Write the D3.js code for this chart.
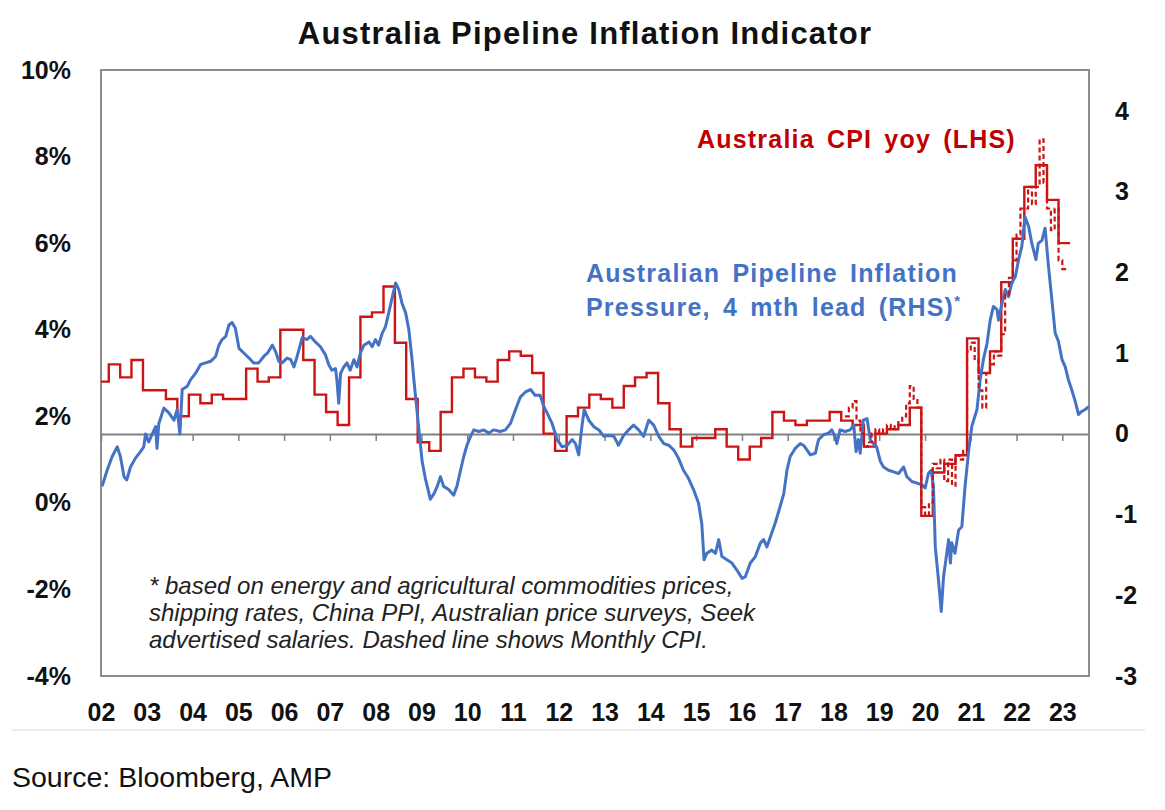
<!DOCTYPE html>
<html>
<head>
<meta charset="utf-8">
<script src="https://cdn.jsdelivr.net/npm/d3@7"></script>
<style>
    body { margin: 0; background: #fff; }
    text { font-family: "Liberation Sans", Arial, sans-serif; }
</style>
</head>
<body>
<svg id="chart" width="1165" height="810"></svg>
<script>
// axis ticks
const leftTicks = [-4, -2, 0, 2, 4, 6, 8, 10];
const rightTicks = [-3, -2, -1, 0, 1, 2, 3, 4];
const tickYears = d3.range(2002, 2024);

// quarterly CPI yoy %, quarters ending Jun 2002 .. Jun 2023
const cpiQuarterStart = "2002-06";
const cpiQuarterly = [
    2.8, 3.2, 2.9,
    3.3, 2.6, 2.6, 2.4,
    2.0, 2.5, 2.3, 2.5,
    2.4, 2.4, 3.1, 2.8,
    2.9, 4.0, 4.0, 3.3,
    2.5, 2.1, 1.8, 2.9,
    4.3, 4.4, 5.0, 3.7,
    2.4, 1.4, 1.2, 2.1,
    2.9, 3.1, 2.9, 2.8,
    3.3, 3.5, 3.4, 3.0,
    1.6, 1.2, 2.0, 2.2,
    2.5, 2.4, 2.2, 2.7,
    2.9, 3.0, 2.3, 1.7,
    1.3, 1.5, 1.5, 1.7,
    1.3, 1.0, 1.3, 1.5,
    2.1, 1.9, 1.8, 1.9,
    1.9, 2.1, 1.9, 1.8,
    1.3, 1.6, 1.7, 1.8,
    2.2, -0.3, 0.7, 0.9,
    1.1, 3.8, 3.0, 3.5,
    5.1, 6.1, 7.3, 7.8,
    7.0, 6.0
];

// monthly CPI indicator yoy %, as plotted from Oct 2018
const cpiMonthlyStart = "2018-10";
const cpiMonthly = [
    2.0, 2.2, 2.35, 1.9,
    1.6, 1.3, 1.4, 1.6, 1.7, 1.6, 1.7, 1.8, 1.7, 1.8, 1.9, 2.0,
    2.3, 2.7, 2.4, 2.2, -0.1, -0.3, 0.0, 0.9, 0.8, 1.0, 0.5, 1.0,
    0.4, 1.1, 1.0, 1.2, 3.5, 3.7, 3.3, 2.6, 2.2, 3.0, 3.2, 3.5,
    3.4, 3.9, 4.8, 5.2, 5.6, 6.2, 6.8, 6.8, 7.3, 6.9, 7.3, 8.4,
    7.4, 6.8, 6.3, 6.8, 5.6, 5.4
];

// pipeline inflation pressure (RHS), with 4 month lead
const pipeYears = [
    2002.52, 2002.63, 2002.74, 2002.85, 2002.92, 2003.00, 2003.06, 2003.14, 2003.25, 2003.36,
    2003.43, 2003.47, 2003.54, 2003.61, 2003.69, 2003.72, 2003.76, 2003.87, 2003.98, 2004.09,
    2004.16, 2004.22, 2004.27, 2004.38, 2004.45, 2004.56, 2004.67, 2004.78, 2004.89, 2005.00,
    2005.07, 2005.14, 2005.22, 2005.29, 2005.36, 2005.43, 2005.51, 2005.62, 2005.73, 2005.83,
    2005.94, 2006.05, 2006.13, 2006.24, 2006.31, 2006.38, 2006.45, 2006.56, 2006.64, 2006.71,
    2006.78, 2006.89, 2007.00, 2007.07, 2007.18, 2007.29, 2007.40, 2007.47, 2007.54, 2007.62,
    2007.65, 2007.69, 2007.73, 2007.80, 2007.87, 2007.94, 2008.02, 2008.09, 2008.16, 2008.24,
    2008.35, 2008.42, 2008.49, 2008.56, 2008.64, 2008.71, 2008.78, 2008.86, 2008.93, 2009.00,
    2009.07, 2009.15, 2009.22, 2009.29, 2009.33, 2009.44, 2009.51, 2009.58, 2009.69, 2009.77,
    2009.84, 2009.91, 2009.98, 2010.09, 2010.20, 2010.27, 2010.35, 2010.42, 2010.49, 2010.57,
    2010.64, 2010.75, 2010.86, 2010.97, 2011.07, 2011.22, 2011.33, 2011.44, 2011.55, 2011.66,
    2011.77, 2011.88, 2011.98, 2012.09, 2012.17, 2012.24, 2012.35, 2012.46, 2012.57, 2012.68,
    2012.79, 2012.86, 2012.93, 2013.00, 2013.05, 2013.15, 2013.26, 2013.37, 2013.48, 2013.59,
    2013.70, 2013.80, 2013.91, 2014.02, 2014.13, 2014.24, 2014.35, 2014.46, 2014.57, 2014.68,
    2014.79, 2014.90, 2015.01, 2015.11, 2015.22, 2015.33, 2015.44, 2015.55, 2015.62, 2015.67,
    2015.73, 2015.84, 2015.92, 2015.99, 2016.06, 2016.17, 2016.28, 2016.39, 2016.50, 2016.57,
    2016.68, 2016.79, 2016.90, 2016.97, 2017.04, 2017.12, 2017.22, 2017.33, 2017.41, 2017.48,
    2017.55, 2017.66, 2017.77, 2017.84, 2017.92, 2017.99, 2018.10, 2018.17, 2018.28, 2018.39,
    2018.46, 2018.53, 2018.57, 2018.64, 2018.75, 2018.86, 2018.94, 2018.99, 2019.04, 2019.08,
    2019.15, 2019.23, 2019.30, 2019.37, 2019.44, 2019.52, 2019.59, 2019.70, 2019.81, 2019.92,
    2020.03, 2020.10, 2020.21, 2020.32, 2020.43, 2020.50, 2020.57, 2020.63, 2020.68, 2020.72,
    2020.79, 2020.85, 2020.90, 2020.97, 2021.01, 2021.05, 2021.08, 2021.15, 2021.23, 2021.30,
    2021.37, 2021.45, 2021.52, 2021.63, 2021.70, 2021.77, 2021.85, 2021.92, 2021.99, 2022.07,
    2022.10, 2022.17, 2022.25, 2022.32, 2022.39, 2022.47, 2022.54, 2022.61, 2022.68, 2022.76,
    2022.83, 2022.92, 2022.97, 2023.05, 2023.12, 2023.19, 2023.27, 2023.34, 2023.41, 2023.49,
    2023.56, 2023.63, 2023.70, 2023.78, 2023.85, 2023.92, 2023.99, 2024.08
];
const pipeValues = [
    -0.65, -0.45, -0.28, -0.16, -0.28, -0.53, -0.57, -0.41, -0.30, -0.22,
    -0.16, 0.00, -0.10, -0.01, 0.09, -0.18, 0.13, 0.32, 0.26, 0.17,
    0.30, 0.00, 0.55, 0.59, 0.67, 0.75, 0.86, 0.88, 0.90, 0.96,
    1.10, 1.17, 1.21, 1.35, 1.38, 1.31, 1.06, 1.00, 0.94, 0.88,
    0.88, 0.96, 1.00, 1.10, 1.02, 0.90, 0.88, 0.94, 0.92, 0.83,
    0.96, 1.19, 1.17, 1.21, 1.14, 1.08, 0.98, 0.86, 0.79, 0.81,
    0.67, 0.38, 0.75, 0.83, 0.88, 0.79, 0.92, 0.83, 1.00, 1.10,
    1.14, 1.08, 1.17, 1.10, 1.25, 1.33, 1.50, 1.70, 1.87, 1.79,
    1.62, 1.50, 1.29, 0.92, 0.67, 0.05, -0.34, -0.55, -0.81, -0.74,
    -0.65, -0.53, -0.65, -0.69, -0.76, -0.65, -0.45, -0.28, -0.14, -0.03,
    0.05, 0.03, 0.05, 0.01, 0.05, 0.03, 0.05, 0.13, 0.30, 0.46,
    0.52, 0.55, 0.48, 0.48, 0.34, 0.26, 0.13, -0.07, -0.16, -0.14,
    -0.07, -0.12, -0.26, 0.09, 0.30, 0.17, 0.09, 0.05, -0.03, -0.02,
    -0.03, -0.14, -0.02, 0.05, 0.11, 0.05, -0.03, 0.17, 0.11, -0.03,
    -0.12, -0.14, -0.20, -0.30, -0.45, -0.55, -0.69, -0.86, -1.11, -1.56,
    -1.48, -1.44, -1.48, -1.31, -1.52, -1.56, -1.60, -1.69, -1.79, -1.77,
    -1.60, -1.52, -1.35, -1.31, -1.40, -1.27, -1.11, -0.90, -0.74, -0.45,
    -0.28, -0.18, -0.12, -0.14, -0.20, -0.26, -0.24, -0.07, -0.01, 0.01,
    0.05, -0.03, -0.12, 0.05, 0.03, 0.05, 0.11, -0.22, -0.07, -0.24,
    0.17, 0.19, -0.07, -0.12, -0.16, -0.34, -0.41, -0.45, -0.47, -0.49,
    -0.41, -0.53, -0.59, -0.61, -0.63, -0.67, -0.49, -0.45, -0.65, -1.40,
    -1.81, -2.20, -1.77, -1.48, -1.31, -1.60, -1.35, -1.48, -1.19, -1.15,
    -0.65, -0.20, 0.10, 0.30, 0.67, 0.92, 1.12, 1.41, 1.58, 1.54,
    1.41, 1.60, 1.79, 1.70, 1.87, 1.95, 2.16, 2.32, 2.69, 2.57,
    2.36, 2.16, 2.36, 2.40, 2.55, 2.10, 1.65, 1.25, 1.15, 0.92,
    0.83, 0.67, 0.55, 0.40, 0.24, 0.28, 0.30, 0.34
];

const red = "#cc1414";
const blue = "#4472c4";
const frameGrey = "#8c8c8c";

const plot = { left: 101, right: 1089, top: 70, bottom: 676 };

const svg = d3.select("#chart");

const parseMonth = d3.timeParse("%Y-%m");
const fromDecimal = (t) => {
    const y = Math.floor(t);
    const start = new Date(y, 0, 1);
    const end = new Date(y + 1, 0, 1);
    return new Date(+start + (t - y) * (end - start));
};

const x = d3.scaleTime()
    .domain([new Date(2002, 6, 1), new Date(2024, 0, 30)])
    .range([plot.left, plot.right]);
const yLeft = d3.scaleLinear().domain([-4, 10]).range([plot.bottom, plot.top]);
const yRight = d3.scaleLinear().domain([-3, 4.51]).range([plot.bottom, plot.top]);

// step series: the last value is held for one more period
const stepSeries = (start, values, months) => {
    const pts = values.map((v, i) => ({ date: d3.timeMonth.offset(start, i * months), value: v }));
    const last = pts[pts.length - 1];
    pts.push({ date: d3.timeMonth.offset(last.date, months), value: last.value });
    return pts;
};
const quarterly = stepSeries(parseMonth(cpiQuarterStart), cpiQuarterly, 3);
const monthly = stepSeries(parseMonth(cpiMonthlyStart), cpiMonthly, 1);
const pipeline = pipeYears.map((t, i) => ({ date: fromDecimal(t), value: pipeValues[i] }));

svg.append("defs").append("clipPath").attr("id", "plot-clip")
    .append("rect")
    .attr("x", plot.left).attr("y", plot.top)
    .attr("width", plot.right - plot.left).attr("height", plot.bottom - plot.top);

// frame
svg.append("rect")
    .attr("x", plot.left).attr("y", plot.top)
    .attr("width", plot.right - plot.left).attr("height", plot.bottom - plot.top)
    .attr("fill", "none").attr("stroke", frameGrey).attr("stroke-width", 2);

// zero line of the RHS with year ticks
const yearDates = tickYears.map((y) => new Date(y, 6, 1));
const zeroAxis = svg.append("g")
    .attr("transform", `translate(0,${yRight(0)})`)
    .call(d3.axisBottom(x).tickValues(yearDates).tickFormat("").tickSize(7).tickSizeOuter(0));
zeroAxis.select(".domain").attr("stroke", "#808080").attr("stroke-width", 2);
zeroAxis.selectAll(".tick line").attr("stroke", "#808080").attr("stroke-width", 1.5);

// year labels
const xAxis = svg.append("g")
    .attr("transform", `translate(0,${plot.bottom})`)
    .call(d3.axisBottom(x).tickValues(yearDates).tickFormat(d3.timeFormat("%y")).tickSize(0).tickPadding(27));
xAxis.select(".domain").remove();
xAxis.selectAll("text")
    .attr("font-family", "Liberation Sans, Arial, sans-serif")
    .attr("font-size", 25).attr("font-weight", "bold").attr("fill", "#111");

const leftAxis = svg.append("g")
    .attr("transform", `translate(${plot.left},0)`)
    .call(d3.axisLeft(yLeft).tickValues(leftTicks).tickFormat((d) => d + "%").tickSize(0).tickPadding(30));
leftAxis.select(".domain").remove();
leftAxis.selectAll("text")
    .attr("font-family", "Liberation Sans, Arial, sans-serif")
    .attr("font-size", 25).attr("font-weight", "bold").attr("fill", "#111");

const rightAxis = svg.append("g")
    .attr("transform", `translate(${plot.right},0)`)
    .call(d3.axisRight(yRight).tickValues(rightTicks).tickFormat((d) => d).tickSize(0).tickPadding(26));
rightAxis.select(".domain").remove();
rightAxis.selectAll("text")
    .attr("font-family", "Liberation Sans, Arial, sans-serif")
    .attr("font-size", 25).attr("font-weight", "bold").attr("fill", "#111");

// lines
const lines = svg.append("g").attr("clip-path", "url(#plot-clip)");

const stepLeft = d3.line()
    .curve(d3.curveStepAfter)
    .x((d) => x(d.date))
    .y((d) => yLeft(d.value));

lines.append("path")
    .datum(quarterly)
    .attr("d", stepLeft)
    .attr("fill", "none").attr("stroke", red).attr("stroke-width", 2.4);

lines.append("path")
    .datum(pipeline)
    .attr("d", d3.line().x((d) => x(d.date)).y((d) => yRight(d.value)))
    .attr("fill", "none").attr("stroke", blue).attr("stroke-width", 3)
    .attr("stroke-linejoin", "round");

lines.append("path")
    .datum(monthly)
    .attr("d", stepLeft)
    .attr("fill", "none").attr("stroke", red).attr("stroke-width", 2.2)
    .attr("stroke-dasharray", "5,3");

// title
svg.append("text")
    .attr("x", 585).attr("y", 44)
    .attr("text-anchor", "middle")
    .attr("font-size", 31).attr("font-weight", "bold").attr("letter-spacing", 1.2)
    .attr("fill", "#111")
    .text("Australia Pipeline Inflation Indicator");

// series labels
svg.append("text")
    .attr("x", 697).attr("y", 148)
    .attr("font-size", 25).attr("font-weight", "bold")
    .attr("letter-spacing", 1.2).attr("word-spacing", 4)
    .attr("fill", "#c00000")
    .text("Australia CPI yoy (LHS)");

const blueLabel = svg.append("text")
    .attr("font-size", 25).attr("font-weight", "bold")
    .attr("letter-spacing", 1.2).attr("word-spacing", 4)
    .attr("fill", blue);
blueLabel.append("tspan").attr("x", 586).attr("y", 282).text("Australian Pipeline Inflation");
blueLabel.append("tspan").attr("x", 586).attr("y", 316).text("Pressure, 4 mth lead (RHS)");
blueLabel.append("tspan").attr("dy", -10).attr("font-size", 15).text("*");

// footnote
const notes = [
    "* based on energy and agricultural commodities prices,",
    "shipping rates, China PPI, Australian price surveys, Seek",
    "advertised salaries. Dashed line shows Monthly CPI."
];
svg.append("g").selectAll("text")
    .data(notes)
    .enter()
    .append("text")
    .attr("x", 149)
    .attr("y", (d, i) => 594 + i * 27)
    .attr("font-size", 24).attr("font-style", "italic")
    .attr("fill", "#222")
    .text((d) => d);

// separator and source
svg.append("line")
    .attr("x1", 12).attr("x2", 1145).attr("y1", 730).attr("y2", 730)
    .attr("stroke", "#e6e6e6").attr("stroke-width", 1.5);

svg.append("text")
    .attr("x", 12).attr("y", 787)
    .attr("font-size", 28.5)
    .attr("fill", "#111")
    .text("Source: Bloomberg, AMP");
</script>
</body>
</html>
